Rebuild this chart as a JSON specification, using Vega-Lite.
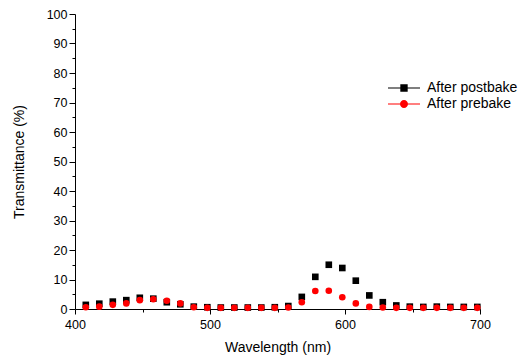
{
  "$schema": "https://vega.github.io/schema/vega-lite/v6.json",
  "autosize": "none",
  "width": 405,
  "height": 295,
  "padding": {"left": 75, "top": 14, "right": 40, "bottom": 52},
  "background": "white",
  "config": {
    "view": {"stroke": null},
    "font": "Liberation Sans",
    "axis": {
      "grid": false,
      "domainColor": "black",
      "tickColor": "black",
      "labelColor": "black",
      "titleColor": "black",
      "labelFontSize": 12.5,
      "titleFontSize": 14,
      "titleFontWeight": "normal",
      "labelFont": "Liberation Sans",
      "titleFont": "Liberation Sans"
    }
  },
  "data": {
    "values": [
      {"wl": 408, "t": 1.4, "series": "After postbake"},
      {"wl": 418, "t": 1.8, "series": "After postbake"},
      {"wl": 428, "t": 2.5, "series": "After postbake"},
      {"wl": 438, "t": 3.0, "series": "After postbake"},
      {"wl": 448, "t": 3.8, "series": "After postbake"},
      {"wl": 458, "t": 3.5, "series": "After postbake"},
      {"wl": 468, "t": 2.3, "series": "After postbake"},
      {"wl": 478, "t": 1.6, "series": "After postbake"},
      {"wl": 488, "t": 0.8, "series": "After postbake"},
      {"wl": 498, "t": 0.6, "series": "After postbake"},
      {"wl": 508, "t": 0.5, "series": "After postbake"},
      {"wl": 518, "t": 0.5, "series": "After postbake"},
      {"wl": 528, "t": 0.5, "series": "After postbake"},
      {"wl": 538, "t": 0.5, "series": "After postbake"},
      {"wl": 548, "t": 0.6, "series": "After postbake"},
      {"wl": 558, "t": 1.0, "series": "After postbake"},
      {"wl": 568, "t": 4.1, "series": "After postbake"},
      {"wl": 578, "t": 10.9, "series": "After postbake"},
      {"wl": 588, "t": 15.0, "series": "After postbake"},
      {"wl": 598, "t": 13.9, "series": "After postbake"},
      {"wl": 608, "t": 9.6, "series": "After postbake"},
      {"wl": 618, "t": 4.6, "series": "After postbake"},
      {"wl": 628, "t": 2.3, "series": "After postbake"},
      {"wl": 638, "t": 1.2, "series": "After postbake"},
      {"wl": 648, "t": 0.8, "series": "After postbake"},
      {"wl": 658, "t": 0.7, "series": "After postbake"},
      {"wl": 668, "t": 0.8, "series": "After postbake"},
      {"wl": 678, "t": 0.7, "series": "After postbake"},
      {"wl": 688, "t": 0.7, "series": "After postbake"},
      {"wl": 698, "t": 0.7, "series": "After postbake"},
      {"wl": 408, "t": 0.6, "series": "After prebake"},
      {"wl": 418, "t": 0.8, "series": "After prebake"},
      {"wl": 428, "t": 1.4, "series": "After prebake"},
      {"wl": 438, "t": 1.9, "series": "After prebake"},
      {"wl": 448, "t": 3.0, "series": "After prebake"},
      {"wl": 458, "t": 3.3, "series": "After prebake"},
      {"wl": 468, "t": 2.8, "series": "After prebake"},
      {"wl": 478, "t": 1.9, "series": "After prebake"},
      {"wl": 488, "t": 0.6, "series": "After prebake"},
      {"wl": 498, "t": 0.4, "series": "After prebake"},
      {"wl": 508, "t": 0.4, "series": "After prebake"},
      {"wl": 518, "t": 0.4, "series": "After prebake"},
      {"wl": 528, "t": 0.4, "series": "After prebake"},
      {"wl": 538, "t": 0.4, "series": "After prebake"},
      {"wl": 548, "t": 0.4, "series": "After prebake"},
      {"wl": 558, "t": 0.5, "series": "After prebake"},
      {"wl": 568, "t": 2.3, "series": "After prebake"},
      {"wl": 578, "t": 6.1, "series": "After prebake"},
      {"wl": 588, "t": 6.2, "series": "After prebake"},
      {"wl": 598, "t": 4.0, "series": "After prebake"},
      {"wl": 608, "t": 1.9, "series": "After prebake"},
      {"wl": 618, "t": 0.7, "series": "After prebake"},
      {"wl": 628, "t": 0.5, "series": "After prebake"},
      {"wl": 638, "t": 0.4, "series": "After prebake"},
      {"wl": 648, "t": 0.4, "series": "After prebake"},
      {"wl": 658, "t": 0.4, "series": "After prebake"},
      {"wl": 668, "t": 0.4, "series": "After prebake"},
      {"wl": 678, "t": 0.4, "series": "After prebake"},
      {"wl": 688, "t": 0.4, "series": "After prebake"},
      {"wl": 698, "t": 0.4, "series": "After prebake"}
    ]
  },
  "encoding": {
    "x": {
      "field": "wl", "type": "quantitative",
      "scale": {"domain": [400, 700], "nice": false, "zero": false},
      "axis": {
        "title": "Wavelength (nm)",
        "values": [400, 450, 500, 550, 600, 650, 700],
        "labelExpr": "datum.value % 100 == 0 ? datum.label : ''",
        "tickSize": {"condition": {"test": "datum.value % 100 == 0", "value": 5}, "value": 3},
        "labelPadding": 4,
        "titlePadding": 10,
        "labelFlush": false
      }
    },
    "y": {
      "field": "t", "type": "quantitative",
      "scale": {"domain": [0, 100], "nice": false},
      "axis": {
        "title": "Transmittance (%)",
        "values": [0, 5, 10, 15, 20, 25, 30, 35, 40, 45, 50, 55, 60, 65, 70, 75, 80, 85, 90, 95, 100],
        "labelExpr": "datum.value % 10 == 0 ? datum.label : ''",
        "tickSize": {"condition": {"test": "datum.value % 10 == 0", "value": 6}, "value": 3},
        "labelPadding": 2,
        "titlePadding": 20
      }
    }
  },
  "layer": [
    {
      "mark": {"type": "point", "filled": true, "size": 44, "opacity": 1},
      "encoding": {
        "color": {"field": "series", "type": "nominal", "scale": {"domain": ["After postbake", "After prebake"], "range": ["#000000", "#ff0000"]}, "legend": null},
        "shape": {"field": "series", "type": "nominal", "scale": {"domain": ["After postbake", "After prebake"], "range": ["square", "circle"]}, "legend": null}
      }
    },
    {
      "mark": {"type": "point", "filled": true, "size": 256, "opacity": 0},
      "encoding": {
        "color": {"field": "series", "type": "nominal", "scale": {"domain": ["After postbake", "After prebake"], "range": ["#000000", "#ff0000"]},
          "legend": {"title": null, "orient": "none", "legendX": 320, "legendY": 65, "padding": 0, "symbolSize": 256, "labelFontSize": 14, "labelColor": "black", "labelFont": "Liberation Sans", "labelOffset": 14, "rowPadding": 0, "symbolOpacity": 1,
            "encode": {"symbols": {"update": {"opacity": {"value": 1}, "fillOpacity": {"value": 1}}}}}},
        "shape": {"field": "series", "type": "nominal", "scale": {"domain": ["After postbake", "After prebake"], "range": ["M-2,-0.065H2V0.065H-2Z M-0.46,-0.46H0.46V0.46H-0.46Z", "M-2,-0.065H2V0.065H-2Z M0.5,0A0.5,0.5 0 1,1 -0.5,0A0.5,0.5 0 1,1 0.5,0Z"]},
          "legend": {"title": null, "orient": "none", "legendX": 320, "legendY": 65, "padding": 0, "symbolSize": 256, "labelFontSize": 14, "labelColor": "black", "labelFont": "Liberation Sans", "labelOffset": 14, "rowPadding": 0, "symbolOpacity": 1,
            "encode": {"symbols": {"update": {"opacity": {"value": 1}, "fillOpacity": {"value": 1}}}}}}
      }
    }
  ],
  "resolve": {"scale": {"color": "independent", "shape": "independent"}}
}
